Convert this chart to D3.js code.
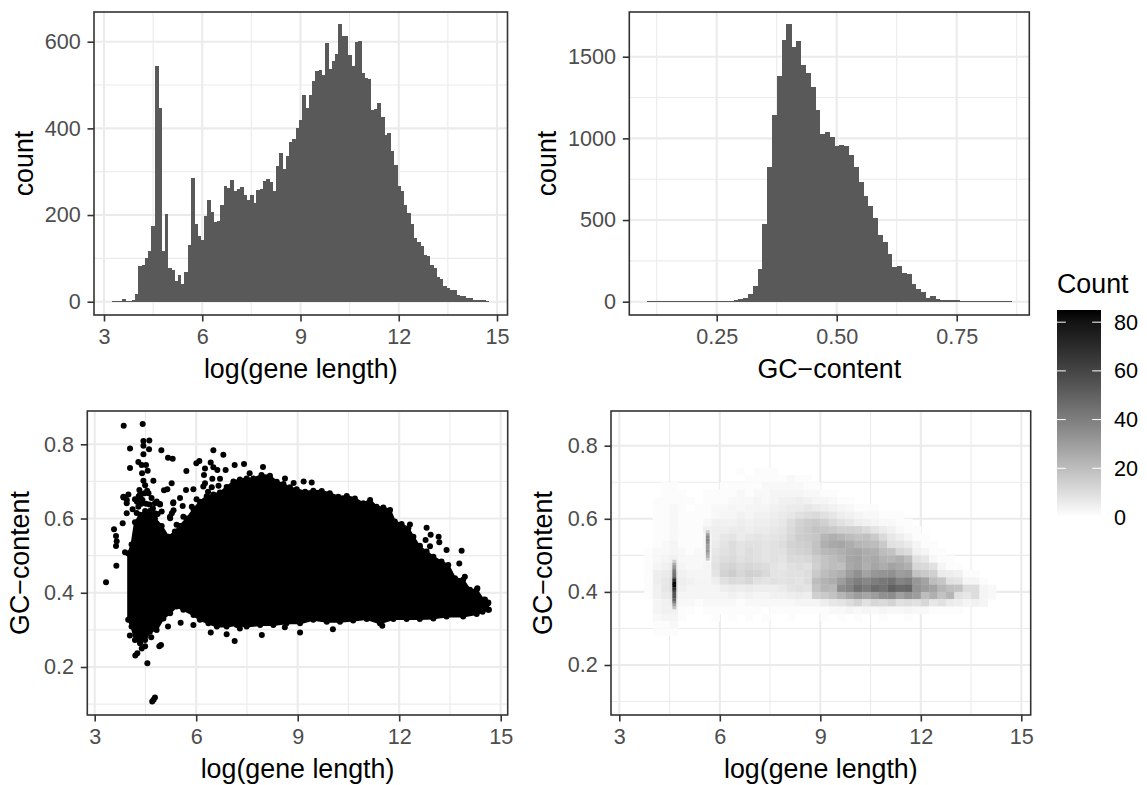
<!DOCTYPE html>
<html><head><meta charset="utf-8">
<script src="https://cdnjs.cloudflare.com/ajax/libs/d3/7.8.5/d3.min.js"></script>
<style>html,body{margin:0;padding:0;background:#fff}svg{display:block}text{font-family:"Liberation Sans",Arial,sans-serif}</style>
</head><body><svg id="c" width="1147" height="785"></svg>
<script>
// ---------- data ----------
const lengthBinStart = 3.25, lengthBinWidth = 0.1;
const lengthCounts = [2,1,1,6,2,2,5,18,82,85,100,117,175,544,448,117,202,78,73,48,62,41,68,131,286,179,152,142,198,235,207,184,186,223,267,262,282,255,260,265,246,235,246,228,258,260,278,283,276,255,313,343,306,336,368,375,401,419,477,447,477,509,532,535,523,597,537,555,572,641,613,613,569,544,599,601,528,516,514,442,445,458,426,385,389,348,315,267,255,223,205,179,147,138,128,108,105,85,78,57,52,36,32,27,27,15,13,13,8,8,4,4,3,3,2];
const gcBinStart = 0.105, gcBinWidth = 0.01;
const gcCounts = [1,1,1,1,1,1,1,1,1,1,2,1,1,1,1,1,1,3,10,16,22,47,96,200,476,824,1143,1382,1602,1700,1559,1596,1449,1400,1314,1173,1027,1039,1008,953,959,953,898,824,733,647,586,512,408,365,292,212,218,176,169,108,78,59,22,35,16,10,10,10,8,4,3,3,3,2,2,1,1,1,2,2];
const scatterX = [3.857,4.418,4.44,4.615,4.44,4.044,4.606,4.97,4.44,5.167,5.305,4.29,4.389,4.517,4.044,4.566,4.399,6.507,6.802,6.093,6.004,6.428,6.26,5.709,6.507,6.625,6.87,7.137,7.413,7.974,7.58,8.624,8.88,9.176,9.413,4.734,4.44,5.275,5.147,5.049,6.26,6.477,6.704,5.916,5.699,3.995,3.847,3.946,5.522,4.93,4.832,5.325,5.6,5.226,5.33,3.946,3.827,3.571,3.63,3.65,3.63,3.896,3.64,3.335,13.845,13.776,12.81,12.93,13.165,13.185,12.78,13.4,12.318,12.61,12.91,14.31,13.94,14.534,14.633,14.652,14.465,14.39,10.04,9.07,7.94,7.137,6.9,6.43,5.916,5.54,5.167,7.29,8.62,11.5,4.96,4.91,4.556,4.78,4.7,4.74,4.2,4.26,4.39,4.49,4.04,4.49,4.67,
 3.85,3.95,4.19,4.32,4.49,4.59,4.29,4.78,4.93,4.98,4.78,5.18,5.28,5.23,5.32,5.52,5.42,5.62,5.87,6.01,6.21,6.23,6.46,4.36,4.52,4.12,4.25,4.68,6.66,6.35,
 4.34,4.41,4.47,4.55,4.62,4.38,4.3,4.24,4.72,4.86];
const scatterY = [.85,.855,.809,.81,.796,.789,.787,.784,.773,.764,.761,.752,.744,.744,.736,.729,.722,.784,.772,.755,.749,.751,.735,.728,.738,.731,.731,.744,.747,.739,.722,.708,.696,.7,.697,.702,.702,.695,.679,.676,.695,.707,.707,.679,.677,.665,.659,.641,.655,.638,.646,.644,.634,.605,.622,.614,.587,.571,.553,.539,.526,.509,.473,.428,.513,.479,.575,.556,.551,.536,.542,.515,.584,.527,.525,.412,.443,.382,.374,.354,.349,.358,.302,.293,.286,.27,.288,.293,.313,.319,.309,.304,.307,.311,.259,.256,.21,.118,.107,.112,.231,.237,.25,.256,.285,.284,.28,
 .657,.65,.652,.677,.69,.668,.632,.641,.639,.619,.614,.551,.614,.601,.641,.578,.583,.605,.632,.652,.686,.717,.684,.655,.64,.625,.645,.655,.688,.672,
 .665,.65,.668,.675,.638,.64,.66,.615,.628,.612];
const massTopX = [3.99,4.09,4.19,4.34,4.49,4.63,4.78,4.98,5.18,5.37,5.52,5.72,5.92,6.11,6.31,6.51,6.70,6.90,7.10,7.29,7.49,7.69,7.93,8.18,8.38,8.58,8.77,8.97,9.22,9.46,9.71,9.95,10.2,10.45,10.69,10.94,11.14,11.33,11.53,11.73,11.87,12.07,12.27,12.42,12.61,12.81,13.01,13.25,13.45,13.65,13.89,14.09,14.29,14.49,14.63];
const massTopY = [.506,.53,.59,.61,.62,.62,.60,.58,.55,.565,.58,.60,.625,.645,.66,.665,.67,.685,.70,.705,.708,.708,.717,.715,.699,.693,.684,.679,.672,.675,.674,.668,.659,.661,.654,.641,.65,.632,.63,.623,.592,.585,.574,.551,.524,.511,.497,.484,.475,.439,.435,.408,.408,.381,.372];
const massBottomX = [3.99,4.09,4.19,4.34,4.49,4.63,4.83,5.03,5.23,5.42,5.62,5.92,6.11,6.36,6.61,6.9,7.2,7.49,7.89,8.28,8.67,9.07,9.46,9.86,10.25,10.64,11.04,11.43,11.83,12.22,12.61,13.01,13.4,13.89,14.29,14.63];
const massBottomY = [.327,.309,.273,.264,.273,.295,.3,.331,.345,.363,.354,.34,.327,.318,.309,.309,.313,.309,.313,.313,.318,.318,.327,.322,.322,.325,.329,.318,.329,.329,.329,.331,.336,.336,.343,.354];
const heatXStart = 3.75, heatXStep = 0.25, heatYStep = 0.02;
const heatYLower = [.72,.70,.68,.66,.64,.62,.60,.58,.56,.54,.52,.50,.48,.46,.44,.42,.40,.38,.36,.34,.32,.30,.28];
const heatCounts = [
[0,0,0,0,0,0,0,0,0,0,0,1,0,1,1,1],
[0,0,0,0,0,0,0,0,0,0,0,0,1,1,1,1,1,2,1,1],
[0,0,1,1,0,0,0,0,0,1,1,1,1,1,2,2,2,2,2,1,1],
[0,0,1,1,1,0,0,1,1,1,1,2,1,2,2,3,3,3,3,2,2,1,1],
[0,1,1,1,1,1,0,1,1,1,2,2,2,3,2,3,4,4,5,4,3,3,2,1,1],
[0,1,1,2,1,0,1,1,2,2,3,2,3,3,3,4,5,6,6,7,6,5,4,3,2,1,1,1],
[0,1,1,2,1,1,1,1,2,3,3,4,3,4,4,5,6,7,9,10,11,9,7,5,4,3,2,2,1,1,1],
[0,1,1,2,1,1,1,2,4,4,4,5,4,5,5,6,7,10,13,15,16,14,11,9,7,5,4,3,2,2,1,1],
[0,1,1,2,1,1,1,4,5,5,6,6,5,6,6,7,8,11,14,16,18,17,16,14,14,13,11,8,6,4,2,1,1],
[0,1,1,2,1,1,1,2,5,7,8,6,7,8,7,8,9,12,15,16,17,22,24,22,20,18,19,16,11,7,5,3,1,1],
[0,1,2,3,1,1,1,2,6,8,10,8,9,9,8,9,10,13,14,15,18,24,26,27,25,22,21,20,16,9,8,6,3,1,1],
[1,2,2,3,2,1,2,2,7,9,10,8,10,9,8,9,9,12,13,14,18,21,22,24,26,27,25,24,20,18,12,10,4,3,1,1],
[1,2,3,4,2,2,2,2,8,10,11,9,10,9,8,9,8,11,11,12,15,18,20,22,27,28,25,26,23,22,24,20,9,7,2,1,1],
[1,3,4,6,3,2,2,3,9,12,13,11,12,11,10,8,7,9,10,9,14,18,20,19,26,28,24,27,25,28,26,24,12,11,9,3,1,1],
[1,5,6,8,4,3,3,3,8,13,15,12,14,13,11,8,8,9,9,10,16,20,22,24,30,34,28,32,33,34,30,31,18,16,14,6,5,4,1,1],
[1,5,7,10,5,4,3,3,5,9,11,10,12,9,8,9,8,9,8,10,20,23,25,30,36,40,37,40,42,44,38,40,32,28,20,17,9,8,3,3,1],
[1,4,7,10,4,3,3,3,3,5,6,5,6,5,5,5,6,8,9,8,18,22,21,35,38,45,41,46,44,50,47,48,33,30,28,22,19,18,10,10,3,2],
[1,4,6,8,3,3,3,3,3,3,4,3,4,3,3,4,4,5,6,5,14,16,18,22,26,30,27,30,34,35,29,33,30,20,24,18,22,9,7,10,3,2],
[0,3,4,5,2,2,1,2,2,2,2,1,2,2,2,2,2,2,3,3,3,5,7,8,10,13,9,12,11,13,9,10,9,12,7,9,6,5,3,4,3],
[0,3,4,4,1,1,0,1,1,1,1,1,1,1,0,1,1,1,1,1,1,1,2,2,3,2,3,2,3,2,2,3,2,2,1,1,1,1],
[0,2,3,3,1,0,0,0,1,0,1,0,1,0,1,0,0,1,0,0,0,1,0,1,0,1,0,0,1,0,0,1],
[0,1,1,2],
[0,1,1,1]
];
const spikeCellW = 0.114, spikeCellH = 0.0075;
const spike1X = 4.64;
const spike1Y = [.484,.476,.469,.461,.454,.447,.439,.432,.424,.417,.409,.402,.394,.387,.379,.372,.364,.357];
const spike1Count = [15,25,32,38,42,45,52,70,85,85,72,60,55,55,50,40,28,18];
const spike2X = 5.64;
const spike2Y = [.565,.557,.55,.542,.535,.527,.52,.512,.505,.497,.49];
const spike2Count = [15,28,35,38,34,30,30,33,27,24,16];
const lengthTicks = [3,6,9,12,15], lengthMinor = [4.5,7.5,10.5,13.5];
const gcTicks = [.25,.5,.75], gcMinor = [.125,.375,.625,.875];
const countTicks1 = [0,200,400,600], countMinor1 = [100,300,500];
const countTicks2 = [0,500,1000,1500], countMinor2 = [250,750,1250];
const gcYTicks = [.2,.4,.6,.8], gcYMinor = [.1,.3,.5,.7];
const legendTicks = [0,20,40,60,80], legendMax = 85;

// ---------- helpers ----------
const svg = d3.select("#c");
const fill = d3.scaleLinear().domain([0,legendMax]).range(["#ffffff","#000000"]).interpolate(d3.interpolateLab);
const TITLE = 26.8, TICK = 21.6;
function panel(o){
  const g = svg.append("g");
  const x = d3.scaleLinear().domain(o.xd).range(o.xr), y = d3.scaleLinear().domain(o.yd).range(o.yr);
  const grid = g.append("g");
  const vl=(v,w)=>grid.append("line").attr("x1",x(v)).attr("x2",x(v)).attr("y1",o.t).attr("y2",o.b).attr("stroke","#ebebeb").attr("stroke-width",w);
  const hl=(v,w)=>grid.append("line").attr("y1",y(v)).attr("y2",y(v)).attr("x1",o.l).attr("x2",o.r).attr("stroke","#ebebeb").attr("stroke-width",w);
  o.xm.forEach(v=>vl(v,1.1)); o.ym.forEach(v=>{ if(y(v)<o.b) hl(v,1.1); });
  o.xt.forEach(v=>vl(v,2.1)); o.yt.forEach(v=>hl(v,2.1));
  o.draw(g.append("g"),x,y);
  g.append("rect").attr("x",o.l).attr("y",o.t).attr("width",o.r-o.l).attr("height",o.b-o.t).attr("fill","none").attr("stroke","#333333").attr("stroke-width",1.6);
  const ax = g.append("g").attr("transform",`translate(0,${o.b})`).call(d3.axisBottom(x).tickValues(o.xt).tickSize(6.5).tickPadding(7.5).tickFormat(o.xf||d3.format("d")));
  const ay = g.append("g").attr("transform",`translate(${o.l},0)`).call(d3.axisLeft(y).tickValues(o.yt).tickSize(6.5).tickPadding(6.8).tickFormat(o.yf||d3.format("d")));
  [ax,ay].forEach(a=>{a.select(".domain").remove();a.selectAll("line").attr("stroke","#333333").attr("stroke-width",1.6);a.selectAll("text").attr("fill","#4d4d4d").style("font-size",TICK+"px").style("font-family",'"Liberation Sans",Arial,sans-serif');});
  g.append("text").attr("x",(o.l+o.r)/2).attr("y",o.xty).attr("text-anchor","middle").attr("font-size",TITLE).attr("fill","#000").text(o.xl);
  g.append("text").attr("transform",`translate(${o.ytx},${(o.t+o.b)/2}) rotate(-90)`).attr("text-anchor","middle").attr("font-size",TITLE).attr("fill","#000").text(o.yl);
}
const bars=(g,x,y,start,w,vals)=>g.selectAll("rect").data(vals).join("rect")
  .attr("x",(d,i)=>x(start+i*w)).attr("width",(d,i)=>x(start+(i+1)*w)-x(start+i*w)+0.5)
  .attr("y",d=>Math.min(y(d),y(0)-1)).attr("height",d=>Math.max(y(0)-y(d),1)).attr("fill","#595959").attr("shape-rendering","crispEdges");
const f2=d3.format(".2f"), f1=d3.format(".1f");

panel({l:94,r:507.5,t:12,b:315,xd:[3,15],xr:[104,497],yd:[0,600],yr:[301.7,41.7],xt:lengthTicks,xm:lengthMinor,yt:countTicks1,ym:countMinor1,
  xl:"log(gene length)",yl:"count",xty:378,ytx:33,draw:(g,x,y)=>bars(g,x,y,lengthBinStart,lengthBinWidth,lengthCounts)});
panel({l:629.3,r:1029.3,t:12,b:315,xd:[.25,.75],xr:[716.7,956.7],yd:[0,1500],yr:[301.7,56.7],xt:gcTicks,xm:gcMinor,yt:countTicks2,ym:countMinor2,xf:f2,
  xl:"GC\u2212content",yl:"count",xty:378,ytx:556,draw:(g,x,y)=>bars(g,x,y,gcBinStart,gcBinWidth,gcCounts)});
panel({l:87.3,r:507.7,t:411,b:715,xd:[3,15],xr:[94.7,500.7],yd:[.2,.8],yr:[667,444.3],xt:lengthTicks,xm:lengthMinor,yt:gcYTicks,ym:gcYMinor,yf:f1,
  xl:"log(gene length)",yl:"GC\u2212content",xty:778,ytx:29,draw:(g,x,y)=>{
    const poly=massTopX.map((v,i)=>[v,massTopY[i]]).concat(massBottomX.map((v,i)=>[v,massBottomY[i]]).reverse());
    const line=d3.line().x(d=>x(d[0])).y(d=>y(d[1]));
    g.append("path").attr("d",line(poly)+"Z").attr("fill","#000").attr("stroke","#000").attr("stroke-width",2).attr("stroke-linejoin","round");
    g.selectAll("circle.e").data(poly).join("circle").attr("class","e").attr("cx",d=>x(d[0])).attr("cy",d=>y(d[1])).attr("r",3).attr("fill","#000");
    g.selectAll("circle.p").data(scatterX).join("circle").attr("class","p").attr("cx",d=>x(d)).attr("cy",(d,i)=>y(scatterY[i])).attr("r",3).attr("fill","#000");
  }});
panel({l:611,r:1030.7,t:411,b:715,xd:[3,15],xr:[619.3,1021.3],yd:[.2,.8],yr:[665,445.7],xt:lengthTicks,xm:lengthMinor,yt:gcYTicks,ym:gcYMinor,yf:f1,
  xl:"log(gene length)",yl:"GC\u2212content",xty:778,ytx:552,draw:(g,x,y)=>{
    heatCounts.forEach((row,ri)=>row.forEach((c,j)=>{ if(!c) return;
      g.append("rect").attr("x",x(heatXStart+j*heatXStep)).attr("width",x(heatXStep)-x(0)+.3)
       .attr("y",y(heatYLower[ri]+heatYStep)).attr("height",y(0)-y(heatYStep)+.3).attr("fill",fill(c));
    }));
    const sp=(X,Ys,Cs)=>Ys.forEach((v,i)=>g.append("rect").attr("x",x(X-spikeCellW/2)).attr("width",x(spikeCellW)-x(0))
       .attr("y",y(v+spikeCellH/2)).attr("height",y(0)-y(spikeCellH)+.3).attr("fill",fill(Cs[i])));
    sp(spike1X,spike1Y,spike1Count); sp(spike2X,spike2Y,spike2Count);
  }});

// legend
const lx=1057, lw=44, ly=d3.scaleLinear().domain([0,legendMax]).range([517,310]);
const defs=svg.append("defs"), grad=defs.append("linearGradient").attr("id","lg").attr("x1",0).attr("x2",0).attr("y1",1).attr("y2",0);
d3.range(0,legendMax+1,5).forEach(v=>grad.append("stop").attr("offset",v/legendMax).attr("stop-color",fill(v)));
const lg=svg.append("g");
lg.append("rect").attr("x",lx).attr("y",ly(legendMax)).attr("width",lw).attr("height",ly(0)-ly(legendMax)).attr("fill","url(#lg)");
legendTicks.forEach(v=>{
  if(v>0){
  lg.append("line").attr("x1",lx).attr("x2",lx+lw/5).attr("y1",ly(v)).attr("y2",ly(v)).attr("stroke","#fff").attr("stroke-width",1);
  lg.append("line").attr("x1",lx+lw*.8).attr("x2",lx+lw).attr("y1",ly(v)).attr("y2",ly(v)).attr("stroke","#fff").attr("stroke-width",1);}
  lg.append("text").attr("x",lx+lw+13).attr("y",ly(v)+7.5).attr("font-size",TICK).attr("fill","#000").text(v);
});
lg.append("text").attr("x",lx).attr("y",293).attr("font-size",TITLE).attr("fill","#000").text("Count");
</script></body></html>
